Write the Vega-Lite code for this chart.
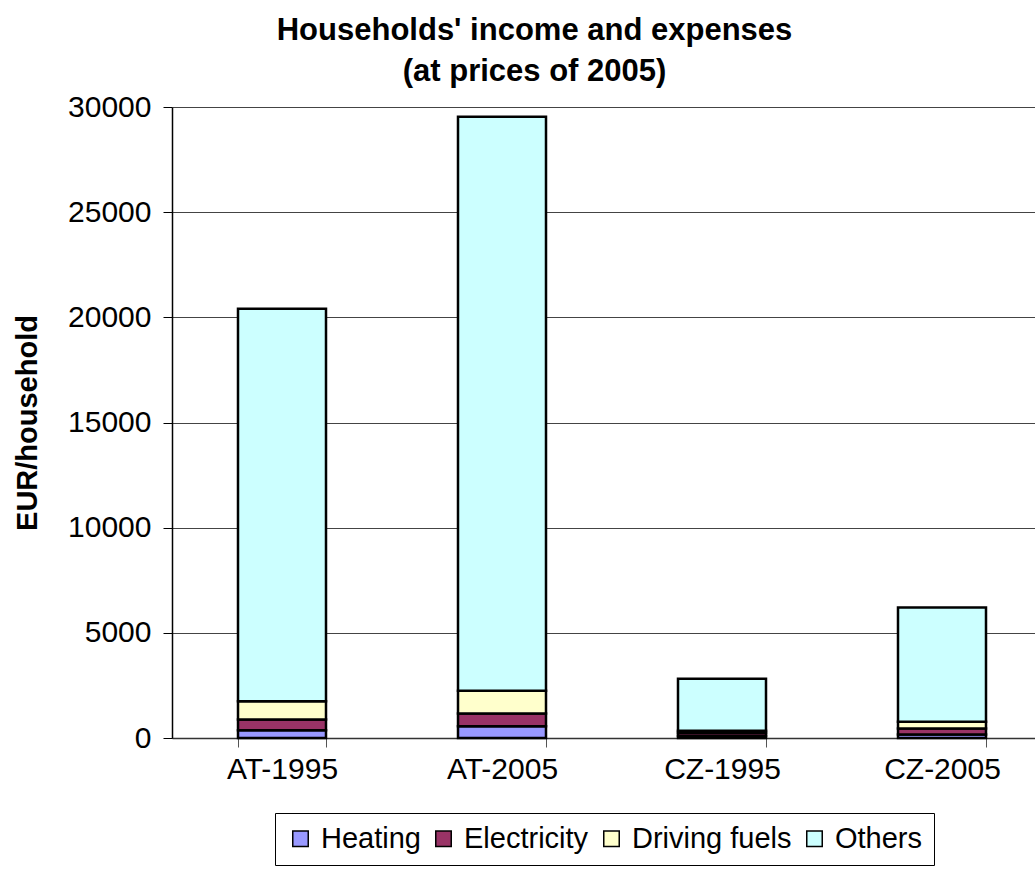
{
  "$schema": "https://vega.github.io/schema/vega-lite/v6.json",
  "autosize": "none",
  "width": 863,
  "height": 631,
  "padding": {"left": 172, "top": 107, "right": 0, "bottom": 134},
  "background": "white",
  "config": {
    "font": "Liberation Sans",
    "view": {"stroke": null}
  },
  "title": {
    "text": ["Households' income and expenses", "(at prices of 2005)"],
    "font": "Liberation Sans",
    "fontSize": 31,
    "fontWeight": "bold",
    "lineHeight": 41,
    "anchor": "middle",
    "dx": -69,
    "offset": 4,
    "color": "black"
  },
  "data": {
    "values": [
      {"cat": "AT-1995", "item": "Heating", "o": 1, "v": 371},
      {"cat": "AT-1995", "item": "Electricity", "o": 2, "v": 509},
      {"cat": "AT-1995", "item": "Driving fuels", "o": 3, "v": 870},
      {"cat": "AT-1995", "item": "Others", "o": 4, "v": 18660},
      {"cat": "AT-2005", "item": "Heating", "o": 1, "v": 561},
      {"cat": "AT-2005", "item": "Electricity", "o": 2, "v": 604},
      {"cat": "AT-2005", "item": "Driving fuels", "o": 3, "v": 1079},
      {"cat": "AT-2005", "item": "Others", "o": 4, "v": 27296},
      {"cat": "CZ-1995", "item": "Heating", "o": 1, "v": 90},
      {"cat": "CZ-1995", "item": "Electricity", "o": 2, "v": 150},
      {"cat": "CZ-1995", "item": "Driving fuels", "o": 3, "v": 110},
      {"cat": "CZ-1995", "item": "Others", "o": 4, "v": 2465},
      {"cat": "CZ-2005", "item": "Heating", "o": 1, "v": 166},
      {"cat": "CZ-2005", "item": "Electricity", "o": 2, "v": 286},
      {"cat": "CZ-2005", "item": "Driving fuels", "o": 3, "v": 318},
      {"cat": "CZ-2005", "item": "Others", "o": 4, "v": 5433}
    ]
  },
  "mark": {"type": "bar", "stroke": "black", "strokeWidth": 2.5},
  "encoding": {
    "x": {
      "field": "cat",
      "type": "nominal",
      "sort": ["AT-1995", "AT-2005", "CZ-1995", "CZ-2005"],
      "scale": {"range": [0, 880], "paddingInner": 0.6, "paddingOuter": 0.3},
      "axis": {
        "title": null,
        "labelAngle": 0,
        "labelFontSize": 30,
        "labelColor": "black",
        "labelPadding": 7,
        "tickBand": "extent",
        "tickSize": 9,
        "tickColor": "#555",
        "tickWidth": 1,
        "domainColor": "#333",
        "domainWidth": 1.5
      }
    },
    "y": {
      "field": "v",
      "type": "quantitative",
      "stack": "zero",
      "scale": {"domain": [0, 30000], "nice": false},
      "axis": {
        "title": "EUR/household",
        "titleFontSize": 29,
        "titleFontWeight": "bold",
        "titleColor": "black",
        "titleX": -130,
        "values": [0, 5000, 10000, 15000, 20000, 25000, 30000],
        "format": "d",
        "labelFontSize": 30,
        "labelColor": "black",
        "labelPadding": 12,
        "tickSize": 9,
        "tickColor": "black",
        "domainColor": "black",
        "domainWidth": 1.5,
        "grid": true,
        "gridColor": "#444",
        "gridWidth": 1
      }
    },
    "order": {"field": "o", "type": "quantitative"},
    "color": {
      "field": "item",
      "type": "nominal",
      "scale": {
        "domain": ["Heating", "Electricity", "Driving fuels", "Others"],
        "range": ["#9999FF", "#993366", "#FFFFCC", "#CCFFFF"]
      },
      "legend": {
        "title": null,
        "orient": "none",
        "legendX": 103,
        "legendY": 706,
        "direction": "horizontal",
        "columns": 4,
        "symbolType": "square",
        "symbolSize": 240,
        "symbolStrokeColor": "black",
        "symbolStrokeWidth": 1.5,
        "symbolOpacity": 1,
        "labelFontSize": 29,
        "labelLimit": 400,
        "labelColor": "black",
        "labelOffset": 6,
        "columnPadding": 8,
        "padding": 11,
        "strokeColor": "black",
        "fillColor": "white"
      }
    }
  }
}
